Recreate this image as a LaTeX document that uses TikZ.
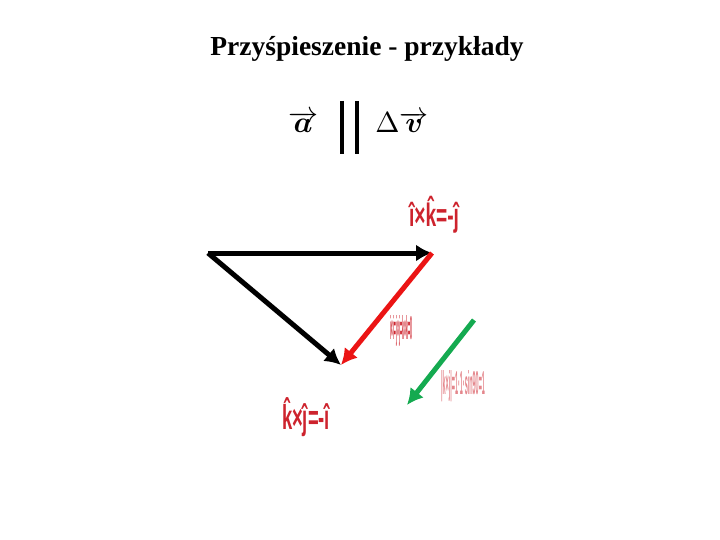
\documentclass[tikz,border=0pt]{standalone}
\usepackage{fontspec}
\setmainfont{Liberation Serif}
\setsansfont{Liberation Sans}
\usepackage{bm}
\usetikzlibrary{arrows.meta}
\definecolor{vred}{RGB}{235,20,20}
\definecolor{vgreen}{RGB}{20,170,80}
\definecolor{lred}{RGB}{205,35,45}

\begin{document}
\begin{tikzpicture}[x=1pt,y=-1pt,
  vec/.style={line width=5pt,-{Latex[length=16pt,width=17pt]}},
  rlabel/.style={text=lred,inner sep=0pt,font=\sffamily\bfseries}]
\useasboundingbox (0,0) rectangle (720,540);
% title and relation
\node (title) at (367,49) {\fontsize{27.5}{29}\selectfont\bfseries Przyśpieszenie - przykłady};
\node (acc) at (303,122) {\scalebox{3}{$\overrightarrow{\bm{a}}$}};
\node (dv) at (402,122) {\scalebox{2.9}{$\Delta\overrightarrow{\bm{v}}$}};
\draw[line width=3.5pt] (342,101) -- (342,154);
\draw[line width=3.5pt] (357,101) -- (357,154);
% vectors
\coordinate (p1) at (208,253);
\coordinate (p2) at (432,253);
\coordinate (p3) at (341,365);
\coordinate (g1) at (474,320);
\coordinate (g2) at (407,405);
\draw[vec] (p1) -- (p2);
\draw[vec] (p1) -- (p3);
\draw[vec,vred] (p2) -- (p3);
\draw[vec,vgreen] (g1) -- (g2);
% labels
\node[rlabel] (ik) at (434,215) {\resizebox{50pt}{30pt}{î×\^{k}=-ĵ}};
\node[rlabel] (kj) at (306,417) {\resizebox{48pt}{32pt}{\^{k}×ĵ=-î}};
\node[rlabel] (zero) at (401,331) {\resizebox{22pt}{24pt}{i×i=j×j=k×k=0}};
\node[rlabel,opacity=0.55] (norm) at (463,386) {\resizebox{44pt}{24pt}{|k×j|=1·1·sin90=1}};
\end{tikzpicture}
\end{document}
